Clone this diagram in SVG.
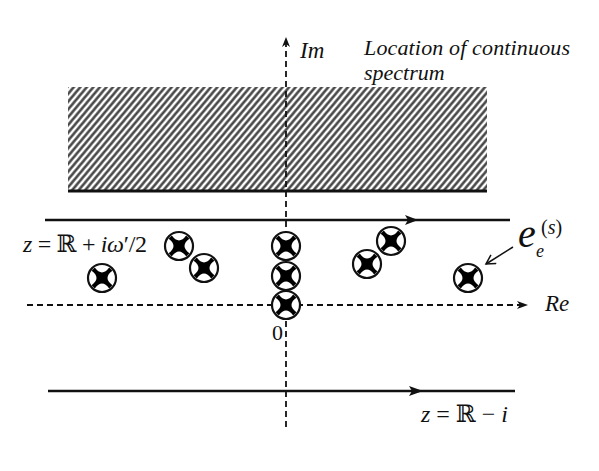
<svg xmlns="http://www.w3.org/2000/svg" width="599" height="471" viewBox="0 0 599 471">
<style>
.t{font-family:"Liberation Serif","Times New Roman","DejaVu Serif",serif;fill:#111}
.it{font-style:italic}
.axis{stroke:#111;stroke-width:1.8;stroke-dasharray:6,4;fill:none}
.path{stroke:#111;stroke-width:2.6;fill:none}
.ring{fill:#fff;stroke:#111;stroke-width:2.2}
.star{fill:#000}
</style>
<defs>
<pattern id="hatch" patternUnits="userSpaceOnUse" width="5" height="10" patternTransform="rotate(40)">
<line x1="2.5" y1="0" x2="2.5" y2="10" stroke="#3a3a3a" stroke-width="2.4"/>
</pattern>
<marker id="av" markerWidth="12" markerHeight="12" refX="10" refY="6" orient="auto" markerUnits="userSpaceOnUse">
<path d="M1,1 L10,6 L1,11" fill="none" stroke="#111" stroke-width="1.5"/>
</marker>
<g id="pole">
<circle r="14" class="ring"/>
<path class="star" d="M7.2,-10.4 L10.4,-7.2 Q0.6,0 10.4,7.2 L7.2,10.4 Q0,0.6 -7.2,10.4 L-10.4,7.2 Q-0.6,0 -10.4,-7.2 L-7.2,-10.4 Q0,-0.6 7.2,-10.4 Z"/>
</g>
</defs>

<g id="spectrum">
<rect x="68" y="87" width="419" height="103" fill="url(#hatch)"/>
<line x1="68" y1="191" x2="487" y2="191" stroke="#111" stroke-width="3"/>
<text class="t it" x="364" y="55" font-size="22" textLength="206">Location of continuous</text>
<text class="t it" x="364" y="80" font-size="22">spectrum</text>
</g>

<g id="connectors">
<line class="axis" x1="286" y1="427" x2="286" y2="40"/>
<path d="M286,37 L282,47 L286,44 L290,47 Z" fill="#111"/>
<line class="axis" x1="27" y1="305" x2="524" y2="305"/>
<path d="M528,305 L517,301 L520,305 L517,309 Z" fill="#111"/>
<line class="path" x1="45" y1="220" x2="510" y2="220"/>
<path d="M418,220 L405,215 L408,220 L405,225 Z" fill="#111"/>
<line class="path" x1="48" y1="391" x2="515" y2="391"/>
<path d="M423,391 L409,386 L412,391 L409,396 Z" fill="#111"/>
<line x1="513" y1="247" x2="486" y2="264" stroke="#111" stroke-width="1.5" marker-end="url(#av)"/>
</g>

<g id="labels">
<text class="t it" x="300" y="58" font-size="23">Im</text>
<text class="t it" x="545" y="311" font-size="23">Re</text>
<text class="t" x="272" y="340" font-size="22">0</text>
<text class="t" x="23" y="252" font-size="24" textLength="124" lengthAdjust="spacing"><tspan class="it">z</tspan> = ℝ + <tspan class="it">iω</tspan>′/2</text>
<text class="t" x="421" y="422" font-size="24" textLength="87" lengthAdjust="spacing"><tspan class="it">z</tspan> = ℝ − <tspan class="it">i</tspan></text>
<g id="label-e">
<text class="t it" x="518" y="247" font-size="40">e</text>
<text class="t it" x="536" y="257" font-size="18">e</text>
<text class="t" x="541" y="234" font-size="20">(<tspan class="it">s</tspan>)</text>
</g>
</g>

<g id="poles">
<g id="p1"><use href="#pole" x="102" y="278"/></g>
<g id="p2"><use href="#pole" x="179" y="246"/></g>
<g id="p3"><use href="#pole" x="204" y="268"/></g>
<g id="p4"><use href="#pole" x="286" y="246"/></g>
<g id="p5"><use href="#pole" x="286" y="276"/></g>
<g id="p6"><use href="#pole" x="286" y="305"/></g>
<g id="p7"><use href="#pole" x="367" y="264"/></g>
<g id="p8"><use href="#pole" x="391" y="241"/></g>
<g id="p9"><use href="#pole" x="468" y="278"/></g>
</g>
</svg>
